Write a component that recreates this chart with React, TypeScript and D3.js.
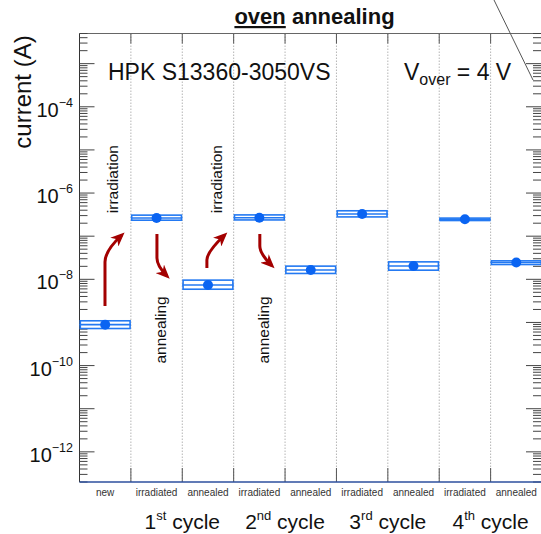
import React from 'react';
import * as d3 from 'd3';

const categories = ['new', 'irradiated', 'annealed', 'irradiated', 'annealed', 'irradiated', 'annealed', 'irradiated', 'annealed'];
const currents = [8.9e-10, 2.64e-7, 7.4e-9, 2.68e-7, 1.64e-8, 3.27e-7, 2.03e-8, 2.46e-7, 2.45e-8];
const errHigh = [1.14e-9, 3.21e-7, 1.0e-8, 3.25e-7, 2.11e-8, 4.05e-7, 2.65e-8, 2.74e-7, 2.8e-8];
const errLow = [6.93e-10, 2.25e-7, 5.65e-9, 2.28e-7, 1.31e-8, 2.68e-7, 1.56e-8, 2.21e-7, 2.11e-8];
const labelDecades = [-12, -10, -8, -6, -4];
const cycleLabels = [
  { n: '1', sup: 'st', at: 2 },
  { n: '2', sup: 'nd', at: 4 },
  { n: '3', sup: 'rd', at: 6 },
  { n: '4', sup: 'th', at: 8 },
];
// annotation arrows in (column coordinate, current) units
const arrows = [
  { x0: 0.496, y0: 2.4e-9, yBend: 2.52e-8, yCtrl: 4.6e-8, x1: 0.82, y1: 1.05e-7 },
  { x0: 1.507, y0: 1.12e-7, yBend: 3.1e-8, yCtrl: 2.03e-8, x1: 1.70, y1: 1.2e-8 },
  { x0: 2.479, y0: 1.83e-8, yBend: 2.8e-8, yCtrl: 4.3e-8, x1: 2.82, y1: 1.05e-7 },
  { x0: 3.509, y0: 1.12e-7, yBend: 5.9e-8, yCtrl: 3.9e-8, x1: 3.74, y1: 2.1e-8 },
];
const notes = [
  { text: 'irradiation', x: 0.748, y: 2.1e-6 },
  { text: 'annealing', x: 1.682, y: 6.7e-10 },
  { text: 'irradiation', x: 2.770, y: 2.1e-6 },
  { text: 'annealing', x: 3.684, y: 6.7e-10 },
];

const W = 541, H = 534;
const left = 79.5, right = 542, top = 33.5, bottom = 482;
const FONT = 'Liberation Sans, Arial, Helvetica, sans-serif';
const LINE = '#2379f2';
const MARK = '#0a64f2';
const ARROW = '#a30000';

export default function App() {
  const y = d3.scaleLog().domain([2e-13, 5e-3]).range([bottom, top]);
  const xb = d3.scaleBand<number>().domain(d3.range(categories.length)).range([left, right]).padding(0);
  const xc = d3.scaleLinear().domain([0, categories.length]).range([left, right]);

  const ticks: { v: number; major: boolean }[] = [];
  for (let e = -13; e <= -3; e++) {
    for (let k = 1; k <= 9; k++) {
      const v = k * Math.pow(10, e);
      if (v >= 2e-13 && v <= 5e-3) ticks.push({ v, major: k === 1 });
    }
  }

  return (
    <svg width={W} height={H} style={{ position: 'absolute', left: 0, top: 0, background: '#fff' }} fontFamily={FONT}>
      <defs>
        <marker id="ah" markerUnits="userSpaceOnUse" markerWidth={16} markerHeight={12} refX={10} refY={6} orient="auto">
          <path d="M0,0 L14,6 L0,12 L4,6 Z" fill={ARROW} />
        </marker>
      </defs>
      <rect x={0} y={0} width={W} height={H} fill="#fff" />

      {/* title */}
      <text x={314.5} y={24} textAnchor="middle" fontSize={22} fontWeight="bold" fill="#111">
        <tspan style={{ textDecoration: 'underline' }}>oven</tspan> annealing
      </text>

      {/* grid lines */}
      {d3.range(1, categories.length).map((i) => (
        <line key={'g' + i} x1={xc(i)} x2={xc(i)} y1={top} y2={bottom} stroke="#b5b5b5" strokeWidth={1} strokeDasharray="1.5,1.5" />
      ))}
      {d3.range(1, categories.length).map((i) => (
        <g key={'t' + i}>
          <line x1={xc(i)} x2={xc(i)} y1={top} y2={top + 10} stroke="#555" strokeWidth={1} />
          <line x1={xc(i)} x2={xc(i)} y1={bottom} y2={bottom - 14} stroke="#555" strokeWidth={1} />
        </g>
      ))}

      {/* frame */}
      <line x1={left} x2={right} y1={top} y2={top} stroke="#666" strokeWidth={1} />
      <line x1={left} x2={left} y1={top} y2={bottom} stroke="#333" strokeWidth={1} />
      <line x1={right} x2={right} y1={top} y2={bottom} stroke="#333" strokeWidth={1} />

      {/* y ticks */}
      {ticks.map((t, i) => (
        <g key={'yt' + i}>
          <line x1={left} x2={left + (t.major ? 15 : 8)} y1={y(t.v)} y2={y(t.v)} stroke="#444" strokeWidth={1} />
          <line x1={right - 1} x2={right - 1 - (t.major ? 15 : 8)} y1={y(t.v)} y2={y(t.v)} stroke="#444" strokeWidth={1} />
        </g>
      ))}
      {labelDecades.map((e) => {
        const yy = y(Math.pow(10, e));
        return (
          <text key={'yl' + e} x={73} y={yy + 10} textAnchor="end" fill="#111">
            <tspan fontSize={20}>10</tspan>
            <tspan fontSize={12.5} dy={-10}>{'\u2212' + Math.abs(e)}</tspan>
          </text>
        );
      })}

      {/* y axis title */}
      <text transform={`translate(31,92) rotate(-90)`} textAnchor="middle" fontSize={24} fill="#111">current (A)</text>

      {/* bottom axis */}
      <line x1={left} x2={right} y1={bottom} y2={bottom} stroke="#2c4f9e" strokeWidth={1.5} />

      {/* category labels */}
      {categories.map((c, i) => (
        <text key={'c' + i} x={(xb(i) as number) + xb.bandwidth() / 2} y={496} textAnchor="middle" fontSize={10} fill="#333">{c}</text>
      ))}
      {cycleLabels.map((c) => (
        <text key={'cy' + c.at} x={xc(c.at)} y={529} textAnchor="middle" fill="#111">
          <tspan fontSize={21}>{c.n}</tspan>
          <tspan fontSize={13} dy={-9}>{c.sup}</tspan>
          <tspan fontSize={21} dy={9}>{' cycle'}</tspan>
        </text>
      ))}

      {/* info text */}
      <text x={108} y={80} fontSize={23} fill="#111">HPK S13360-3050VS</text>
      <text x={404} y={80} fill="#111">
        <tspan fontSize={23}>V</tspan>
        <tspan fontSize={16} dy={5}>over</tspan>
        <tspan fontSize={23} dy={-5}>{' = 4 V'}</tspan>
      </text>

      {/* data boxes */}
      {currents.map((v, i) => {
        const x0 = xb(i) as number;
        const w = xb.bandwidth();
        const yt = y(errHigh[i]);
        const yb = y(errLow[i]);
        const sw = 1.6;
        return (
          <g key={'d' + i}>
            <rect x={x0 + sw / 2} y={yt + sw / 2} width={w - sw} height={Math.max(0.1, yb - yt - sw)} fill="#fff" stroke={LINE} strokeWidth={sw} />
            <line x1={x0} x2={x0 + w} y1={y(v)} y2={y(v)} stroke={LINE} strokeWidth={1.6} />
            <circle cx={x0 + w / 2} cy={y(v)} r={5} fill={MARK} />
          </g>
        );
      })}

      {/* arrows */}
      {arrows.map((a, i) => {
        const d = `M${xc(a.x0)},${y(a.y0)} L${xc(a.x0)},${y(a.yBend)} Q${xc(a.x0)},${y(a.yCtrl)} ${xc(a.x1)},${y(a.y1)}`;
        return <path key={'a' + i} d={d} fill="none" stroke={ARROW} strokeWidth={3} markerEnd="url(#ah)" />;
      })}

      {/* annotation texts */}
      {notes.map((n, i) => (
        <text key={'n' + i} transform={`translate(${xc(n.x)},${y(n.y)}) rotate(-90)`} textAnchor="middle" fontSize={15.5} fill="#111">{n.text}</text>
      ))}

      {/* diagonal stray line */}
      <line x1={494} y1={0} x2={533} y2={80} stroke="#555" strokeWidth={1} />
    </svg>
  );
}
